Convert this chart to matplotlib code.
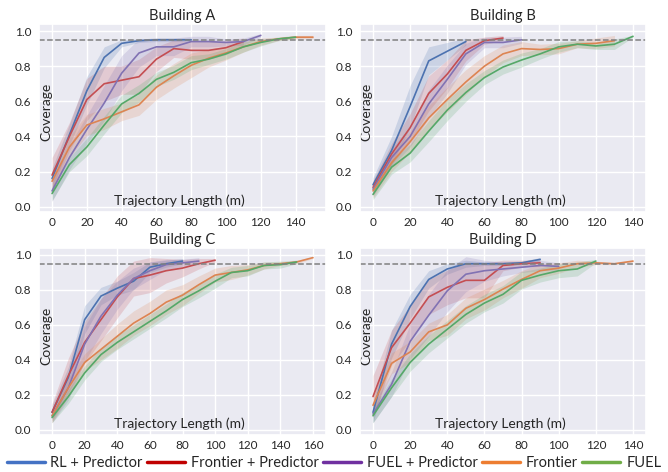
import matplotlib
matplotlib.use("Agg")
import matplotlib.pyplot as plt
import seaborn as sns
import numpy as np
from matplotlib.lines import Line2D
from matplotlib.ticker import MultipleLocator

sns.set_theme(style="darkgrid")
plt.rcParams['font.family'] = ['Lato', 'DejaVu Sans']

# ---------------- data ----------------
series_names = ["RL + Predictor", "Frontier + Predictor", "FUEL + Predictor", "Frontier", "FUEL"]
buildings = ["Building A", "Building B", "Building C", "Building D"]

# Building A
a_rl_mean = [0.16, 0.41, 0.66, 0.85, 0.93, 0.945, 0.95, 0.95, 0.95]
a_rl_sd   = [0.06, 0.06, 0.08, 0.06, 0.02, 0.01, 0.01, 0.01, 0.01]
a_fp_mean = [0.18, 0.40, 0.61, 0.70, 0.72, 0.74, 0.84, 0.90, 0.89, 0.89, 0.905, 0.94]
a_fp_sd   = [0.10, 0.08, 0.12, 0.10, 0.08, 0.10, 0.07, 0.05, 0.05, 0.05, 0.04, 0.02]
a_up_mean = [0.09, 0.28, 0.44, 0.59, 0.76, 0.875, 0.91, 0.91, 0.94, 0.94, 0.935, 0.94, 0.975]
a_up_sd   = [0.06, 0.07, 0.08, 0.10, 0.10, 0.08, 0.05, 0.05, 0.03, 0.03, 0.02, 0.02, 0.01]
a_fr_mean = [0.145, 0.34, 0.465, 0.50, 0.54, 0.58, 0.68, 0.745, 0.805, 0.845, 0.875, 0.91, 0.94, 0.955, 0.965, 0.965]
a_fr_sd   = [0.06, 0.06, 0.06, 0.06, 0.05, 0.06, 0.07, 0.07, 0.07, 0.05, 0.04, 0.03, 0.02, 0.01, 0.01, 0.01]
a_fu_mean = [0.075, 0.24, 0.34, 0.465, 0.585, 0.645, 0.725, 0.765, 0.82, 0.84, 0.87, 0.91, 0.935, 0.955, 0.965]
a_fu_sd   = [0.04, 0.04, 0.05, 0.05, 0.05, 0.05, 0.04, 0.04, 0.04, 0.03, 0.03, 0.03, 0.02, 0.01, 0.01]

# Building B
b_rl_mean = [0.125, 0.32, 0.57, 0.83, 0.885, 0.94]
b_rl_sd   = [0.04, 0.08, 0.12, 0.08, 0.05, 0.02]
b_fp_mean = [0.11, 0.30, 0.45, 0.645, 0.755, 0.89, 0.945, 0.96]
b_fp_sd   = [0.04, 0.06, 0.08, 0.10, 0.08, 0.06, 0.02, 0.015]
b_up_mean = [0.10, 0.28, 0.40, 0.585, 0.725, 0.87, 0.935, 0.935, 0.95]
b_up_sd   = [0.04, 0.05, 0.06, 0.08, 0.08, 0.06, 0.03, 0.03, 0.02]
b_fr_mean = [0.09, 0.25, 0.37, 0.505, 0.61, 0.71, 0.80, 0.87, 0.90, 0.895, 0.90, 0.925, 0.93, 0.945]
b_fr_sd   = [0.04, 0.05, 0.06, 0.07, 0.07, 0.07, 0.06, 0.05, 0.04, 0.03, 0.03, 0.02, 0.03, 0.03]
b_fu_mean = [0.07, 0.225, 0.305, 0.43, 0.55, 0.65, 0.735, 0.795, 0.835, 0.87, 0.91, 0.925, 0.915, 0.925, 0.97]
b_fu_sd   = [0.03, 0.04, 0.05, 0.06, 0.06, 0.05, 0.04, 0.04, 0.04, 0.03, 0.03, 0.02, 0.02, 0.03, 0.005]

# Building C
c_rl_mean = [0.10, 0.30, 0.63, 0.765, 0.81, 0.85, 0.93, 0.95, 0.965]
c_rl_sd   = [0.04, 0.06, 0.08, 0.05, 0.04, 0.05, 0.03, 0.02, 0.015]
c_fp_mean = [0.10, 0.31, 0.50, 0.63, 0.76, 0.865, 0.885, 0.91, 0.925, 0.95, 0.97]
c_fp_sd   = [0.05, 0.10, 0.12, 0.12, 0.12, 0.10, 0.10, 0.07, 0.05, 0.03, 0.01]
c_up_mean = [0.08, 0.24, 0.49, 0.65, 0.77, 0.865, 0.91, 0.945, 0.955, 0.965]
c_up_sd   = [0.04, 0.07, 0.10, 0.10, 0.08, 0.06, 0.05, 0.03, 0.02, 0.02]
c_fr_mean = [0.08, 0.24, 0.385, 0.46, 0.535, 0.61, 0.665, 0.73, 0.77, 0.83, 0.885, 0.90, 0.915, 0.94, 0.95, 0.96, 0.985]
c_fr_sd   = [0.04, 0.05, 0.05, 0.06, 0.07, 0.07, 0.07, 0.07, 0.06, 0.05, 0.04, 0.04, 0.03, 0.02, 0.01, 0.01, 0.005]
c_fu_mean = [0.07, 0.19, 0.325, 0.43, 0.50, 0.56, 0.62, 0.68, 0.745, 0.795, 0.85, 0.90, 0.91, 0.94, 0.945, 0.96]
c_fu_sd   = [0.03, 0.04, 0.04, 0.04, 0.04, 0.04, 0.04, 0.04, 0.04, 0.04, 0.04, 0.03, 0.03, 0.02, 0.02, 0.01]

# Building D
d_rl_mean = [0.10, 0.49, 0.705, 0.86, 0.92, 0.95, 0.95, 0.95, 0.955, 0.975]
d_rl_sd   = [0.06, 0.08, 0.07, 0.05, 0.03, 0.02, 0.01, 0.01, 0.01, 0.01]
d_fp_mean = [0.19, 0.47, 0.61, 0.76, 0.815, 0.855, 0.855, 0.94, 0.95, 0.955]
d_fp_sd   = [0.12, 0.10, 0.10, 0.10, 0.10, 0.10, 0.10, 0.03, 0.02, 0.02]
d_up_mean = [0.09, 0.26, 0.505, 0.655, 0.795, 0.89, 0.91, 0.92, 0.93, 0.94, 0.935]
d_up_sd   = [0.05, 0.07, 0.10, 0.12, 0.12, 0.10, 0.06, 0.04, 0.03, 0.03, 0.02]
d_fr_mean = [0.14, 0.38, 0.445, 0.56, 0.60, 0.695, 0.745, 0.805, 0.86, 0.91, 0.925, 0.95, 0.955, 0.95, 0.965]
d_fr_sd   = [0.05, 0.06, 0.06, 0.05, 0.06, 0.06, 0.06, 0.05, 0.05, 0.04, 0.03, 0.02, 0.01, 0.005, 0.005]
d_fu_mean = [0.08, 0.24, 0.385, 0.49, 0.575, 0.66, 0.725, 0.775, 0.855, 0.885, 0.91, 0.92, 0.965]
d_fu_sd   = [0.04, 0.05, 0.05, 0.05, 0.05, 0.05, 0.05, 0.05, 0.05, 0.04, 0.04, 0.04, 0.01]

step = 10  # trajectory length sampling (m)
target_coverage = 0.95

panels = [
    [(a_rl_mean, a_rl_sd), (a_fp_mean, a_fp_sd), (a_up_mean, a_up_sd), (a_fr_mean, a_fr_sd), (a_fu_mean, a_fu_sd)],
    [(b_rl_mean, b_rl_sd), (b_fp_mean, b_fp_sd), (b_up_mean, b_up_sd), (b_fr_mean, b_fr_sd), (b_fu_mean, b_fu_sd)],
    [(c_rl_mean, c_rl_sd), (c_fp_mean, c_fp_sd), (c_up_mean, c_up_sd), (c_fr_mean, c_fr_sd), (c_fu_mean, c_fu_sd)],
    [(d_rl_mean, d_rl_sd), (d_fp_mean, d_fp_sd), (d_up_mean, d_up_sd), (d_fr_mean, d_fr_sd), (d_fu_mean, d_fu_sd)],
]

line_colors = ["#4C72B0", "#C44E52", "#8172B3", "#DD8452", "#55A868"]
legend_colors = ["#4472C4", "#C00000", "#7030A0", "#ED7D31", "#70AD47"]

# ---------------- figure ----------------
fig = plt.figure(figsize=(6.68, 4.72), dpi=100)
W, H = 668, 472
boxes = [(39, 24, 326, 212), (360, 24, 646, 212), (39, 248, 326, 435), (360, 248, 646, 435)]

for bname, (x0, y0, x1, y1), pdata in zip(buildings, boxes, panels):
    ax = fig.add_axes([x0 / W, 1 - y1 / H, (x1 - x0) / W, (y1 - y0) / H])
    for (m, s), col in zip(pdata, line_colors):
        m = np.asarray(m); s = np.asarray(s)
        x = np.arange(len(m)) * step
        ax.fill_between(x, m - s, m + s, color=col, alpha=0.2, linewidth=0)
        ax.plot(x, m, color=col, linewidth=1.2)
    ax.axhline(target_coverage, color="gray", linestyle="--", linewidth=1.1)
    ax.set_ylim(-0.03, 1.04)
    ax.set_yticks([0.0, 0.2, 0.4, 0.6, 0.8, 1.0])
    ax.xaxis.set_major_locator(MultipleLocator(20))
    ax.tick_params(axis="y", labelsize=8.5, pad=5.5, length=0)
    ax.tick_params(axis="x", labelsize=8.5, pad=3.5, length=0)
    ax.set_title(bname, fontsize=10.5, pad=3)
    ax.set_xlabel("Trajectory Length (m)", fontsize=10)
    ax.xaxis.set_label_coords(0.49, 0.095)
    ax.set_ylabel("Coverage", fontsize=10)
    ax.yaxis.set_label_coords(0.045, 0.53)

handles = [Line2D([0], [0], color=c, linewidth=2.5) for c in legend_colors]
fig.legend(handles, series_names, loc="center", bbox_to_anchor=(0.5, 1 - 463 / H),
           ncol=5, frameon=False, fontsize=10.5, handlelength=2.6,
           columnspacing=0.3, handletextpad=0.4, borderpad=0.0, borderaxespad=0.0)

fig.savefig("out.png", dpi=100)
